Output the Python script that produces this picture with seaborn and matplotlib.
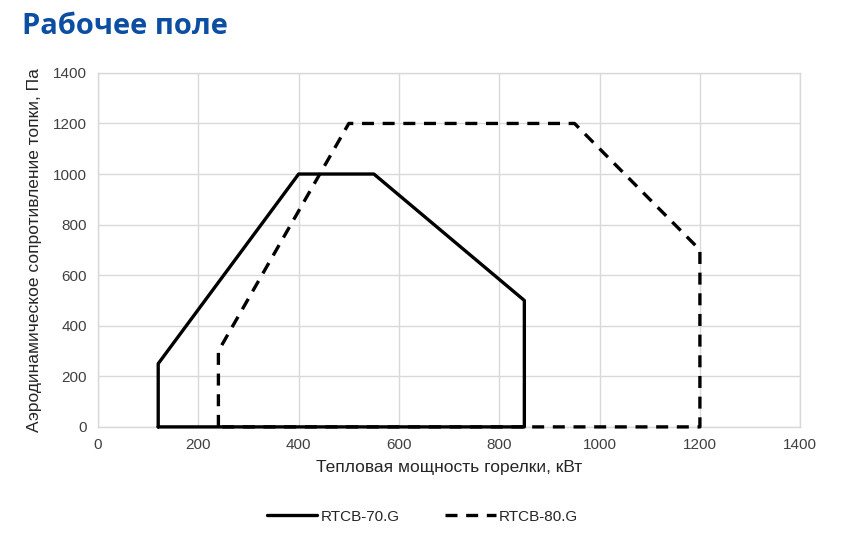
import pandas as pd
import numpy as np
import matplotlib
matplotlib.use("Agg")
import matplotlib.pyplot as plt
import seaborn as sns

sns.set_theme(style="white")
plt.rcParams["font.family"] = ["Liberation Sans", "DejaVu Sans"]

# RTCB-70.G working field outline
x70 = [120, 120, 400, 550, 850, 850, 120]
y70 = [0, 250, 1000, 1000, 500, 0, 0]
# RTCB-80.G working field outline
x80 = [240, 240, 500, 950, 1200, 1200, 240]
y80 = [0, 300, 1200, 1200, 700, 0, 0]

ticks = [0, 200, 400, 600, 800, 1000, 1200, 1400]

df70 = pd.DataFrame({"x": x70, "y": y70, "order": range(len(x70))})
df80 = pd.DataFrame({"x": x80, "y": y80, "order": range(len(x80))})

fig = plt.figure(figsize=(8.45, 5.48), dpi=100)
ax = fig.add_axes([0.116, 0.221, 0.831, 0.646])

sns.lineplot(data=df80, x="x", y="y", sort=False, estimator=None, ax=ax,
             color="black", linewidth=2.4, linestyle=(0, (3.6, 2.6)), label="RTCB-80.G")
sns.lineplot(data=df70, x="x", y="y", sort=False, estimator=None, ax=ax,
             color="black", linewidth=2.4, label="RTCB-70.G")
for ln in ax.lines:
    ln.set_clip_on(False)
    ln.set_zorder(4)

ax.set_xlim(0, 1400)
ax.set_ylim(0, 1400)
ax.set_xticks(ticks)
ax.set_yticks(ticks)
ax.grid(True, color="#d9d9d9", linewidth=1)
for s in ax.spines.values():
    s.set_color("#d9d9d9")
    s.set_linewidth(1)
ax.tick_params(axis="both", labelsize=11, colors="#404040", length=0, pad=8)

ax.set_xlabel("Тепловая мощность горелки, кВт", fontsize=12.5, color="#262626", labelpad=6)
ax.set_ylabel("Аэродинамическое сопротивление топки, Па", fontsize=12.5, color="#262626", labelpad=8)

handles, labels = ax.get_legend_handles_labels()
ax.legend(handles[::-1], labels[::-1], loc="center", bbox_to_anchor=(0.5, 0.057),
          bbox_transform=fig.transFigure, ncol=2, frameon=False, fontsize=11,
          handlelength=3.3, handletextpad=0.2, columnspacing=3.0)

fig.text(0.026, 0.938, "Рабочее поле", fontsize=21, fontweight="bold",
         color="#0b4ea2", family=["Open Sans", "DejaVu Sans"])

fig.savefig("out.png", dpi=100)
